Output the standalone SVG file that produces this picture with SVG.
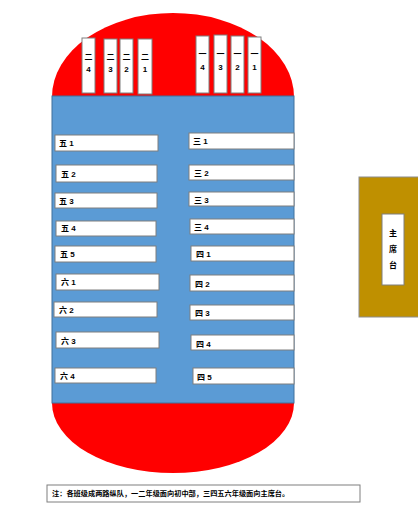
<svg xmlns="http://www.w3.org/2000/svg" width="418" height="505" viewBox="0 0 418 505">
<style>
.red{fill:#FF0000;}
.field{fill:#5B9BD5;stroke:#41719C;stroke-width:1;}
.box{fill:#FFFFFF;stroke:#7F7F7F;stroke-width:1;}
.lbl{font-family:"Liberation Sans","Noto Sans CJK SC",sans-serif;font-size:8px;font-weight:bold;fill:#000;}
.vlbl{font-family:"Liberation Sans","Noto Sans CJK SC",sans-serif;font-size:8px;font-weight:bold;fill:#000;text-anchor:middle;}
.stage{fill:#BF9000;stroke:#8C8C8C;stroke-width:1;}
.note{font-family:"Noto Sans CJK SC",sans-serif;font-size:7.2px;font-weight:bold;fill:#000;}
</style>
<rect width="418" height="505" fill="#FFFFFF"/>
<g id="field">
<ellipse class="red" cx="173" cy="97" rx="121" ry="84"/>
<ellipse class="red" cx="173" cy="403" rx="121" ry="70"/>
<rect class="field" x="52" y="96" width="242" height="307"/>
</g>
<g id="grade2">
<g id="c2-4"><rect class="box" x="82" y="38" width="13" height="55"/><text class="vlbl" x="88.5" y="60">二</text><text class="vlbl" x="88.5" y="72">4</text></g>
<g id="c2-3"><rect class="box" x="104" y="39" width="13" height="54"/><text class="vlbl" x="110.5" y="60">二</text><text class="vlbl" x="110.5" y="72">3</text></g>
<g id="c2-2"><rect class="box" x="120" y="39" width="13" height="54"/><text class="vlbl" x="126.5" y="60">二</text><text class="vlbl" x="126.5" y="72">2</text></g>
<g id="c2-1"><rect class="box" x="138" y="39" width="14" height="55"/><text class="vlbl" x="145" y="60">二</text><text class="vlbl" x="145" y="72">1</text></g>
</g>
<g id="grade1">
<g id="c1-4"><rect class="box" x="196" y="36" width="13" height="57"/><text class="vlbl" x="202.5" y="57">一</text><text class="vlbl" x="202.5" y="70">4</text></g>
<g id="c1-3"><rect class="box" x="214" y="35" width="13" height="58"/><text class="vlbl" x="220.5" y="57">一</text><text class="vlbl" x="220.5" y="70">3</text></g>
<g id="c1-2"><rect class="box" x="231" y="36" width="13" height="57"/><text class="vlbl" x="237.5" y="57">一</text><text class="vlbl" x="237.5" y="70">2</text></g>
<g id="c1-1"><rect class="box" x="248" y="37" width="13" height="56"/><text class="vlbl" x="254.5" y="57">一</text><text class="vlbl" x="254.5" y="70">1</text></g>
</g>
<g id="grade5">
<g id="c5-1"><rect class="box" x="55" y="135" width="103" height="16"/><text class="lbl" x="59" y="146">五 1</text></g>
<g id="c5-2"><rect class="box" x="56" y="165" width="101" height="17"/><text class="lbl" x="61" y="177">五 2</text></g>
<g id="c5-3"><rect class="box" x="55" y="193" width="102" height="15"/><text class="lbl" x="59" y="204">五 3</text></g>
<g id="c5-4"><rect class="box" x="56" y="221" width="100" height="15"/><text class="lbl" x="61" y="231">五 4</text></g>
<g id="c5-5"><rect class="box" x="55" y="246" width="101" height="16"/><text class="lbl" x="60" y="257">五 5</text></g>
</g>
<g id="grade6">
<g id="c6-1"><rect class="box" x="56" y="274" width="103" height="16"/><text class="lbl" x="61" y="285">六 1</text></g>
<g id="c6-2"><rect class="box" x="54" y="302" width="103" height="15"/><text class="lbl" x="59" y="313">六 2</text></g>
<g id="c6-3"><rect class="box" x="56" y="332" width="103" height="16"/><text class="lbl" x="61" y="344">六 3</text></g>
<g id="c6-4"><rect class="box" x="55" y="368" width="101" height="15"/><text class="lbl" x="60" y="379">六 4</text></g>
</g>
<g id="grade3">
<g id="c3-1"><rect class="box" x="189" y="133" width="105" height="16"/><text class="lbl" x="193" y="144">三 1</text></g>
<g id="c3-2"><rect class="box" x="189" y="165" width="105" height="15"/><text class="lbl" x="194" y="176">三 2</text></g>
<g id="c3-3"><rect class="box" x="189" y="192" width="105" height="14"/><text class="lbl" x="194" y="203">三 3</text></g>
<g id="c3-4"><rect class="box" x="190" y="219" width="104" height="15"/><text class="lbl" x="194" y="230">三 4</text></g>
</g>
<g id="grade4">
<g id="c4-1"><rect class="box" x="191" y="246" width="103" height="15"/><text class="lbl" x="196" y="257">四 1</text></g>
<g id="c4-2"><rect class="box" x="190" y="275" width="104" height="16"/><text class="lbl" x="195" y="287">四 2</text></g>
<g id="c4-3"><rect class="box" x="190" y="305" width="104" height="15"/><text class="lbl" x="195" y="316">四 3</text></g>
<g id="c4-4"><rect class="box" x="191" y="335" width="103" height="15"/><text class="lbl" x="196" y="347">四 4</text></g>
<g id="c4-5"><rect class="box" x="193" y="368" width="101" height="16"/><text class="lbl" x="197" y="380">四 5</text></g>
</g>
<g id="stage">
<rect class="stage" x="359" y="177" width="62" height="140"/>
<rect class="box" x="382" y="214" width="22" height="71"/>
<text class="vlbl" x="393" y="236">主</text>
<text class="vlbl" x="393" y="252">席</text>
<text class="vlbl" x="393" y="268">台</text>
</g>
<g id="note">
<rect class="box" x="47" y="485" width="313" height="17"/>
<text class="note" x="52" y="496">注：各班级成两路纵队，一二年级面向初中部，三四五六年级面向主席台。</text>
</g>
<g id="connectors"></g>
</svg>
